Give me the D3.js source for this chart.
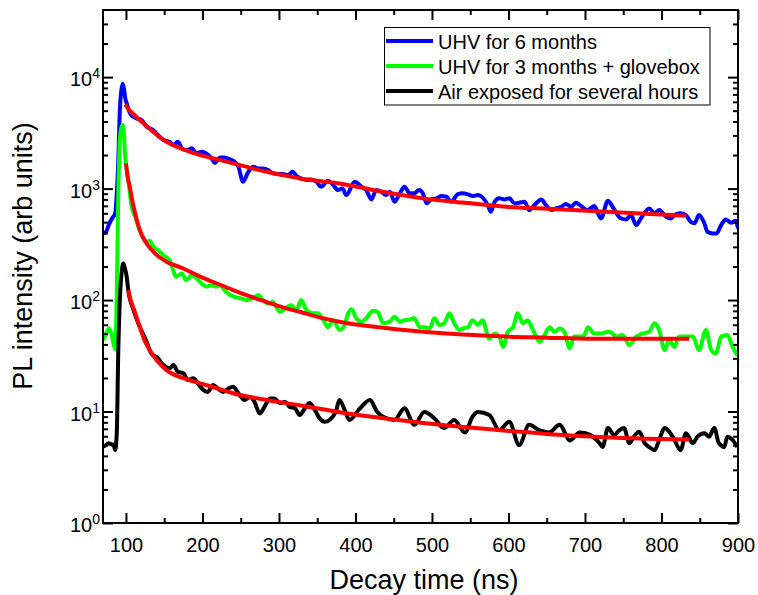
<!DOCTYPE html>
<html>
<head>
<meta charset="utf-8">
<script src="https://cdn.jsdelivr.net/npm/d3@7"></script>
<style>
  body { margin: 0; background: #fff; }
  text { font-family: Arial, "Liberation Sans", sans-serif; fill: #000; }
</style>
</head>
<body>
<script>

// time (ns), PL intensity (arb units)

var uhv6 = [
	[70,407],[73,400],[78,480],[83,555],[86,600],[88,900],[90,1800],[92,5060],[94,7600],[95.7,8700],[97.5,7800],[99,6500],
	[101,5810],[104,5000],[107,4560],[114,4265],[120.5,4115],[127,3585],[135.6,3350],[142,3020],[149,2723],[157,2630],
	[162,2455],[168,2630],[173,2295],[179,2215],[186,2295],[192,2070],[199,2138],[205,2070],[212,1866],[216,1703],
	[223,1905],[229,1905],[236,1828],[242,1740],[247,1570],[253,1151],[260,1415],[266,1570],[273,1518],[279,1518],
	[286,1465],[292,1368],[299,1349],[305,1349],[312,1322],[318,1415],[323,1295],[329,1234],[336,1192],[342,1208],
	[349,1151],[355,1038],[364,1175],[371,1075],[377,970],[383,1004],[388,875],[399,1151],[408,1038],[414,970],
	[421,800],[427,970],[434,936],[440,875],[445,936],[451,762],[458,906],[464,1038],[471,906],[477,906],[483,970],
	[488,906],[493,737],[499,800],[506,817],[512,857],[519,844],[525,762],[534,892],[540,906],[547,887],[553,857],
	[560,875],[566,834],[573,711],[577,620],[582,762],[588,817],[595,800],[601,817],[608,737],[614,746],[621,762],
	[627,641],[634,711],[643,800],[649,711],[656,641],[662,664],[669,687],[675,726],[682,687],[688,746],[695,697],
	[703,641],[712,697],[721,540],[730,778],[736,687],[747,540],[754,529],[760,578],[767,471],[773,540],[784,664],
	[791,600],[797,641],[806,559],[812,540],[819,591],[825,600],[832,578],[838,504],[843,488],[849,578],[856,488],
	[860,410],[867,396],[872,396],[878,471],[884,529],[891,494],[897,514],[900,440]
];

var uhv3 = [
	[70,44],[73,48],[78,56],[81,50],[84,40],[86,36],[88,115],[90,906],[92,2723],[94,3500],[95.7,3715],[97.5,3000],
	[98.7,2070],[100,1683],[103,1200],[107.4,687],[112,560],[118,425],[127,333],[131,340],[136,300],[142,281],[149,253],
	[157,228],[166,162],[173,173],[179,151],[186,168],[192,157],[199,141],[205,132],[212,136],[218,132],[223,136],
	[229,123],[236,111],[242,107],[249,104],[258,100],[266,104],[273,111],[279,100],[286,93],[292,96],[301,78.5],
	[308,84],[316,90],[323,81],[329,100],[336,81],[344,76],[351,76],[358,66],[364,57],[371,66],[379,54],[385,58],
	[390,75],[395,82.5],[401,68.5],[408,64],[414,68.5],[423,80],[429,78.5],[436,62],[445,64],[451,71],[458,64],
	[464,66],[471,67],[477,68.5],[484,57],[490,57],[497,55.5],[503,68.5],[510,59.7],[516,62],[523,76],[529,62],
	[536,53.8],[540,55.5],[547,57],[553,66],[560,59.7],[566,66],[575,45],[582,50],[588,47],[593,38],[599,52],
	[606,57],[612,76],[619,62],[625,66],[632,53.8],[641,42],[647,48.5],[654,57],[660,52],[667,55.5],[673,52],
	[680,36.9],[686,47],[693,47],[699,48.5],[704,57],[712,50],[719,50],[732,52],[741,47],[749,48.5],[758,39.5],
	[767,47],[775,50],[784,52],[791,62],[797,53.8],[804,35.6],[810,43.7],[817,38],[823,47],[832,47],[841,47],
	[849,35.6],[858,53.8],[865,35.6],[871,33],[878,47],[886,48.5],[893,38],[899,32]
];

var air = [
	[70,4.83],[74,5.0],[77,5.19],[81,5.08],[84,5.0],[86,4.52],[88,6.4],[90,35.6],[92,100],[94.5,180],[96.5,213],
	[98.5,195],[101,162],[103,123],[110,81],[118,57.6],[127,42.3],[133,33.3],[142,30],[149,26.1],[157,24.4],[162,26.1],
	[168,22.7],[175,22],[181,19.2],[188,19.9],[194,17.9],[201,15.6],[207,15],[214,17.3],[220,16.1],[227,15],[234,16.1],
	[240,16.7],[247,14.6],[255,12.7],[262,13.5],[268,12.2],[275,9.6],[281,11],[288,13.1],[294,13.1],[301,11.9],
	[308,12.2],[314,11],[321,10.7],[327,9.3],[334,10.7],[340,11.9],[347,10.3],[353,8.7],[360,8.1],[366,8.4],
	[375,10.3],[379,12.7],[386,10.3],[392,8.4],[405,10.5],[419,12.7],[428,10],[436,9.0],[451,8.4],[464,10.7],
	[477,7.6],[490,9.9],[503,8.7],[516,7.1],[529,8.4],[543,6.5],[553,9],[560,9.9],[575,9.3],[588,6.8],[601,8.1],
	[614,5.0],[627,7.6],[640,6.8],[653,6.5],[667,7.6],[680,5.5],[693,6.5],[706,6.2],[719,5.2],[723,4.8],[730,7.1],
	[738,6.15],[745,6.8],[751,7.1],[758,5.2],[764,5.95],[771,6.6],[778,5.2],[784,4.8],[791,4.5],[797,5.55],[804,7.1],
	[810,6.6],[817,5.55],[825,4.5],[832,6.4],[841,5.2],[847,5.95],[856,6.4],[862,5.95],[869,7.1],[875,5.2],
	[882,4.8],[886,5.95],[893,5.55],[899,4.8]
];

// fitted decays (red)
var fitUhv6 = [
	[99,5700],[105,5000],[110,4650],[118,4115],[127,3650],[135,3250],[153,2630],[175,2250],[197,1995],[220,1830],
	[240,1683],[262,1540],[284,1415],[305,1320],[327,1234],[353,1170],[379,1113],[430,950],[488,817],[540,750],
	[597,687],[650,660],[703,632],[760,605],[800,585],[832,570]
];
var fitUhv3 = [
	[100,1683],[102,1300],[105,1038],[108,800],[112,600],[118,425],[127,322],[138,262],[153,221],[175,192],[197,162],
	[220,140],[240,123],[262,108],[284,96],[305,86],[327,78.5],[353,70],[379,64],[430,57],[488,52],[540,49],[597,47],
	[650,46],[704,45],[770,45],[836,45]
];
var fitAir = [
	[103,123],[106,100],[110,84],[118,57.6],[124,44],[131,35.6],[140,29],[153,23.5],[175,19.9],[197,17.9],[220,16.1],
	[240,14.6],[284,12.7],[327,11.4],[390,9.6],[450,8.5],[520,7.5],[590,6.8],[650,6.3],[720,5.9],[780,5.7],[836,5.6]
];

var seriesNames = ["UHV for 6 months", "UHV for 3 months + glovebox", "Air exposed for several hours"];
var seriesColors = ["#0000ff", "#00ff00", "#000000"];

var xMajor = [100, 200, 300, 400, 500, 600, 700, 800, 900];
var xMinor = [150, 250, 350, 450, 550, 650, 750, 850];
var yMajor = [1, 10, 100, 1000, 10000];
var yExponents = ["0", "1", "2", "3", "4"];

var chartWidth = 758, chartHeight = 595;
var plotLeft = 103, plotRight = 738, plotTop = 10, plotBottom = 523;

var svg = d3.select("body").append("svg")
	.attr("width", chartWidth)
	.attr("height", chartHeight);

var x = d3.scaleLinear().domain([70, 900]).range([plotLeft, plotRight]);
var y = d3.scaleLog().domain([1, 40000]).range([plotBottom, plotTop]);

var yMinor = [];
yMajor.forEach(function (m) {
	for (var k = 2; k <= 9; k++) {
		if (m * k < 40000) yMinor.push(m * k);
	}
});

svg.append("clipPath").attr("id", "plot")
	.append("rect")
	.attr("x", plotLeft).attr("y", plotTop)
	.attr("width", plotRight - plotLeft).attr("height", plotBottom - plotTop);

var line = d3.line()
	.x(function (d) { return x(d[0]); })
	.y(function (d) { return y(d[1]); })
	.curve(d3.curveMonotoneX);

var plot = svg.append("g").attr("clip-path", "url(#plot)");

[uhv6, uhv3, air].forEach(function (s, i) {
	plot.append("path")
		.datum(s)
		.attr("d", line)
		.attr("fill", "none")
		.attr("stroke", seriesColors[i])
		.attr("stroke-width", 4)
		.attr("stroke-linejoin", "round");
});

[fitUhv6, fitUhv3, fitAir].forEach(function (s) {
	plot.append("path")
		.datum(s)
		.attr("d", line)
		.attr("fill", "none")
		.attr("stroke", "#ff0000")
		.attr("stroke-width", 4);
});

// Axes, ticks pointing inward

function styleAxis(g) {
	g.select(".domain").remove();
	g.selectAll(".tick line").attr("stroke", "#000").attr("stroke-width", 2);
	g.selectAll(".tick text").attr("font-size", 20).attr("fill", "#000")
		.style("font-family", "Arial, 'Liberation Sans', sans-serif");
}

svg.append("g")
	.attr("transform", "translate(0," + plotBottom + ")")
	.call(d3.axisBottom(x).tickValues(xMajor).tickSize(-10).tickPadding(15).tickFormat(d3.format("d")))
	.call(styleAxis);

svg.append("g")
	.attr("transform", "translate(0," + plotBottom + ")")
	.call(d3.axisBottom(x).tickValues(xMinor).tickSize(-5).tickFormat(""))
	.call(styleAxis);

svg.append("g")
	.attr("transform", "translate(0," + plotTop + ")")
	.call(d3.axisTop(x).tickValues(xMajor).tickSize(-10).tickFormat(""))
	.call(styleAxis);

svg.append("g")
	.attr("transform", "translate(0," + plotTop + ")")
	.call(d3.axisTop(x).tickValues(xMinor).tickSize(-5).tickFormat(""))
	.call(styleAxis);

svg.append("g")
	.attr("transform", "translate(" + plotLeft + ",0)")
	.call(d3.axisLeft(y).tickValues(yMajor).tickSize(-10).tickFormat(""))
	.call(styleAxis);

svg.append("g")
	.attr("transform", "translate(" + plotLeft + ",0)")
	.call(d3.axisLeft(y).tickValues(yMinor).tickSize(-5).tickFormat(""))
	.call(styleAxis);

svg.append("g")
	.attr("transform", "translate(" + plotRight + ",0)")
	.call(d3.axisRight(y).tickValues(yMajor).tickSize(-10).tickFormat(""))
	.call(styleAxis);

svg.append("g")
	.attr("transform", "translate(" + plotRight + ",0)")
	.call(d3.axisRight(y).tickValues(yMinor).tickSize(-5).tickFormat(""))
	.call(styleAxis);

// y labels as 10^n
var yLabels = svg.append("g").selectAll("text")
	.data(yMajor)
	.enter().append("text")
	.attr("x", plotLeft - 3)
	.attr("y", function (d) { return y(d) + 9; })
	.attr("text-anchor", "end")
	.attr("font-size", 20);

yLabels.append("tspan").text("10");
yLabels.append("tspan")
	.attr("font-size", 14)
	.attr("dy", -8)
	.text(function (d, i) { return yExponents[i]; });

svg.append("rect")
	.attr("x", plotLeft).attr("y", plotTop)
	.attr("width", plotRight - plotLeft).attr("height", plotBottom - plotTop)
	.attr("fill", "none")
	.attr("stroke", "#000")
	.attr("stroke-width", 2);

// titles
svg.append("text")
	.attr("x", 424)
	.attr("y", 589)
	.attr("text-anchor", "middle")
	.attr("font-size", 27)
	.text("Decay time (ns)");

svg.append("text")
	.attr("transform", "translate(32,256) rotate(-90)")
	.attr("text-anchor", "middle")
	.attr("font-size", 27)
	.text("PL intensity (arb units)");

// legend
var legend = svg.append("g");

legend.append("rect")
	.attr("x", 384.5).attr("y", 27.5)
	.attr("width", 325.5).attr("height", 77.5)
	.attr("fill", "#fff")
	.attr("stroke", "#000")
	.attr("stroke-width", 1);

var rows = legend.selectAll("g.row")
	.data(seriesNames)
	.enter().append("g")
	.attr("class", "row")
	.attr("transform", function (d, i) { return "translate(0," + (41 + i * 25) + ")"; });

rows.append("line")
	.attr("x1", 386).attr("x2", 433)
	.attr("stroke", function (d, i) { return seriesColors[i]; })
	.attr("stroke-width", 4);

rows.append("text")
	.attr("x", 438)
	.attr("y", 7.5)
	.attr("font-size", 20)
	.text(function (d) { return d; });

</script>
</body>
</html>
